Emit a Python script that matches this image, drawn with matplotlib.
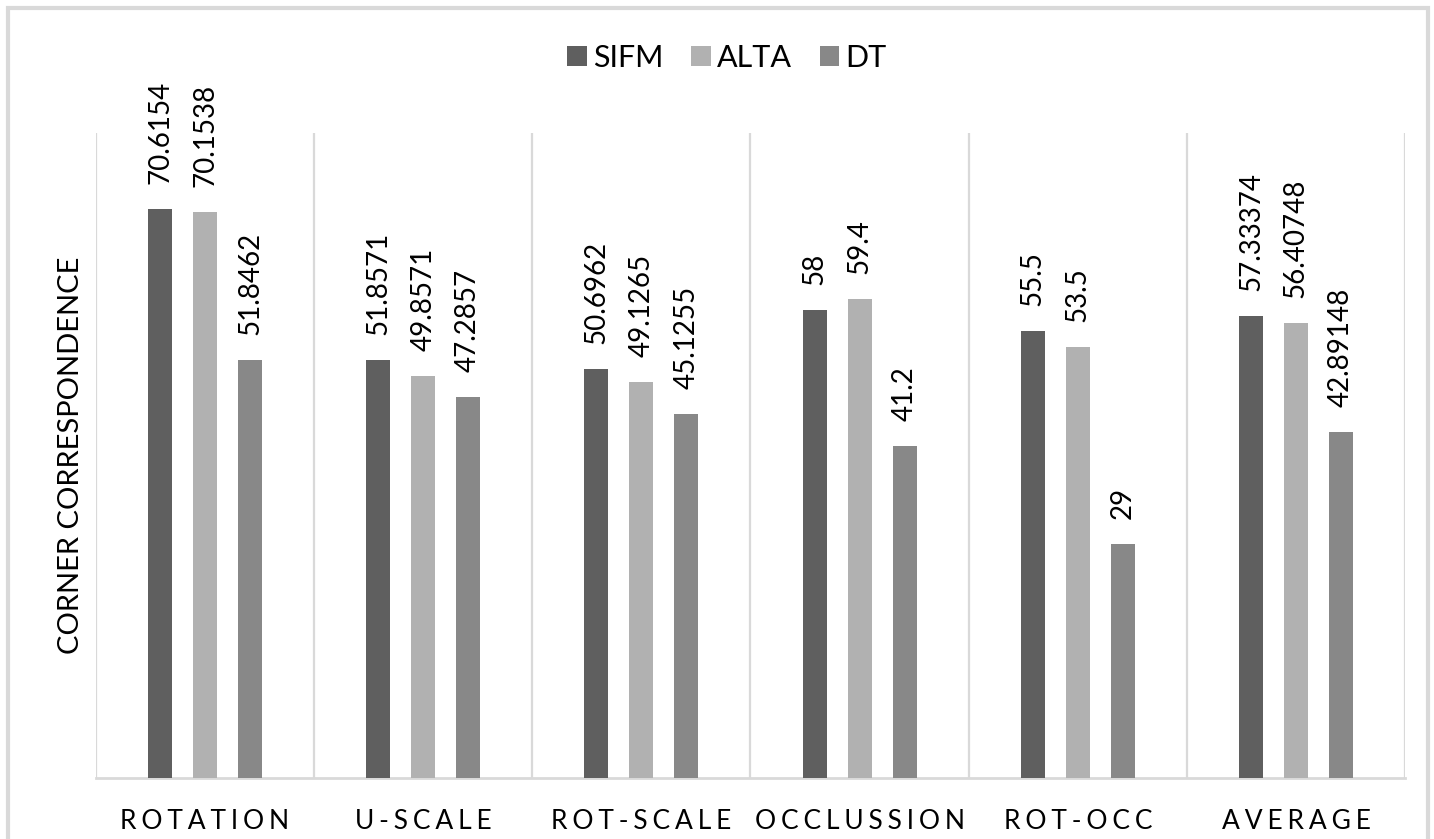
import numpy as np
import matplotlib.pyplot as plt
from matplotlib.patches import Rectangle

plt.rcParams['font.family'] = ['Lato', 'DejaVu Sans']

categories = ['ROTATION', 'U-SCALE', 'ROT-SCALE', 'OCCLUSSION', 'ROT-OCC', 'AVERAGE']
series_names = ['SIFM', 'ALTA', 'DT']
sifm = [70.6154, 51.8571, 50.6962, 58, 55.5, 57.33374]
alta = [70.1538, 49.8571, 49.1265, 59.4, 53.5, 56.40748]
dt = [51.8462, 47.2857, 45.1255, 41.2, 29, 42.89148]
sifm_labels = ['70.6154', '51.8571', '50.6962', '58', '55.5', '57.33374']
alta_labels = ['70.1538', '49.8571', '49.1265', '59.4', '53.5', '56.40748']
dt_labels = ['51.8462', '47.2857', '45.1255', '41.2', '29', '42.89148']

colors = ['#5f5f5f', '#b1b1b1', '#888888']
grid_gray = '#d9d9d9'

fig = plt.figure(figsize=(14.34, 8.39), dpi=100)
ax = fig.add_axes([0.0669, 0.0727, 0.9129, 0.7688])

x = np.arange(len(categories))
offsets = [-0.206, 0.0, 0.206]
width = 0.11

for vals, labels, name, col, off in zip([sifm, alta, dt],
                                        [sifm_labels, alta_labels, dt_labels],
                                        series_names, colors, offsets):
    bars = ax.bar(x + off, vals, width=width, color=col, label=name, zorder=3)
    for b, lab in zip(bars, labels):
        ax.annotate(lab, (b.get_x() + b.get_width() / 2, b.get_height()),
                    xytext=(0, 18), textcoords='offset points',
                    rotation=90, ha='center', va='bottom', fontsize=20)

# category separators
for k in range(len(categories) + 1):
    ax.axvline(k - 0.5, color=grid_gray, lw=1.6, zorder=1)

ax.set_xlim(-0.5, len(categories) - 0.5)
ax.set_ylim(0, 80)
ax.set_yticks([])
ax.set_xticks(x)
# letter-spaced category names (hair spaces between letters)
spacer = '\u200a' * 3
ax.set_xticklabels([spacer.join(c) for c in categories], fontsize=19)
ax.tick_params(axis='x', length=0, pad=22)
for s in ['top', 'right', 'left']:
    ax.spines[s].set_visible(False)
ax.spines['bottom'].set_color(grid_gray)
ax.spines['bottom'].set_linewidth(2)

fig.text(71 / 1434, 0.457, 'CORNER CORRESPONDENCE', rotation=90,
         ha='center', va='center', fontsize=21)

fig.legend(loc='center', bbox_to_anchor=(0.507, 1 - 58 / 839), ncol=3,
           frameon=False, fontsize=22, handlelength=0.65, handleheight=0.65,
           handletextpad=0.2, columnspacing=0.9)

# outer chart border
fig.patches.append(Rectangle((8 / 1434, -0.05), 1420 / 1434, 1.05 - 8 / 839,
                             transform=fig.transFigure, fill=False,
                             edgecolor=grid_gray, lw=3, clip_on=False))

fig.savefig('out.png', dpi=100)
